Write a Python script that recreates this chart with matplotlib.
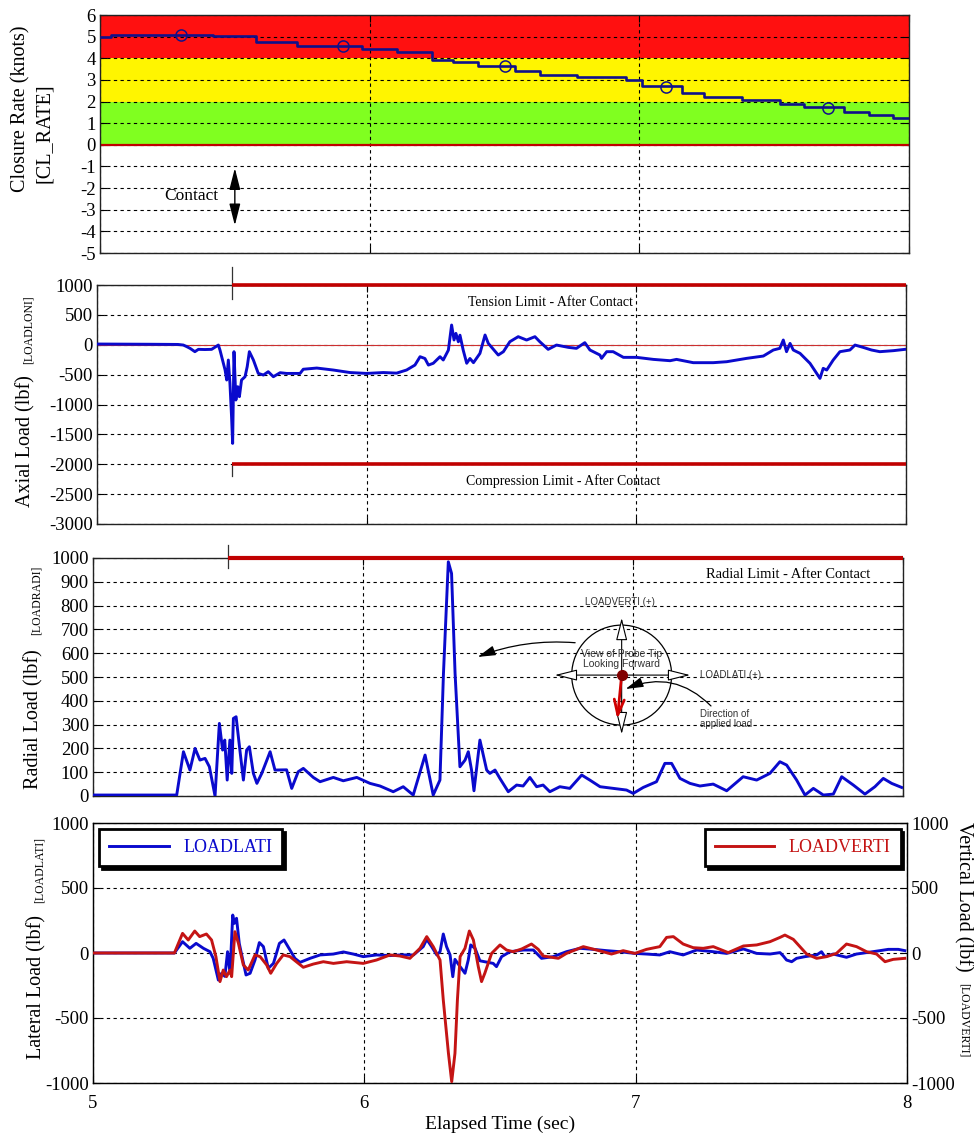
import numpy as np
import matplotlib.pyplot as plt
from matplotlib.patches import Ellipse, FancyArrowPatch

plt.rcParams['font.family'] = ['Liberation Serif', 'DejaVu Serif']
plt.rcParams['axes.unicode_minus'] = False

# ---------------- data ----------------
contact_t = 5.5
tension_lim = 1000
compress_lim = -2000
radial_lim = 1000

# closure rate (step data, knots)
cl_t = [5.00, 5.04, 5.42, 5.58, 5.73, 5.97, 6.10, 6.23, 6.31, 6.40, 6.54, 6.63, 6.77,
        6.95, 7.01, 7.16, 7.24, 7.38, 7.52, 7.61, 7.76, 7.85, 7.94, 8.00]
cl_v = [5.00, 5.06, 5.02, 4.77, 4.57, 4.41, 4.28, 3.92, 3.81, 3.66, 3.41, 3.23, 3.15,
        3.00, 2.72, 2.41, 2.20, 2.07, 1.89, 1.76, 1.50, 1.38, 1.25, 1.25]
mk_t = [5.30, 5.90, 6.50, 7.10, 7.70]
mk_v = [5.07, 4.55, 3.62, 2.65, 1.68]

# axial load LOADLONI (lbf)
axial_t = [5.00, 5.10, 5.20, 5.30, 5.320, 5.333, 5.345, 5.363, 5.376, 5.40, 5.425, 5.450,
           5.456, 5.475, 5.481, 5.487, 5.493, 5.499, 5.503, 5.508, 5.515, 5.522, 5.528,
           5.536, 5.549, 5.557, 5.565, 5.580, 5.598, 5.617, 5.635, 5.654, 5.679, 5.703,
           5.753, 5.765, 5.815, 5.876, 5.938, 6.000, 6.062, 6.111, 6.148, 6.179, 6.198,
           6.216, 6.229, 6.247, 6.272, 6.284, 6.303, 6.315, 6.324, 6.331, 6.340, 6.346,
           6.358, 6.371, 6.383, 6.396, 6.420, 6.439, 6.451, 6.488, 6.507, 6.531, 6.562,
           6.593, 6.624, 6.642, 6.673, 6.704, 6.748, 6.778, 6.809, 6.828, 6.865, 6.871,
           6.890, 6.914, 6.952, 7.001, 7.063, 7.125, 7.149, 7.211, 7.285, 7.335, 7.409,
           7.471, 7.508, 7.532, 7.545, 7.557, 7.570, 7.582, 7.607, 7.644, 7.681, 7.693,
           7.706, 7.730, 7.755, 7.792, 7.811, 7.841, 7.872, 7.903, 7.953, 7.996]
axial_v = [12, 10, 8, 5, -5, -32, -60, -116, -77, -80, -77, -5,
           -88, -423, -590, -256, -646, -1204, -1651, -116, -925, -702, -869,
           -590, -535, -367, -116, -256, -479, -507, -451, -535, -468, -480,
           -480, -410, -390, -423, -465, -480, -465, -475, -423, -340, -200,
           -230, -340, -310, -200, -255, -90, 330, 80, 190, 50, 160,
           -90, -310, -230, -300, -145, 163, 23, -172, -116, 51, 135,
           79, 135, 51, -77, -5, -44, -60, 35, -88, -172, -228,
           -116, -116, -211, -211, -245, -267, -245, -300, -300, -284, -228,
           -189, -88, -60, 79, -116, 23, -88, -144, -311, -563, -395,
           -423, -256, -116, -88, -5, -44, -88, -116, -99, -77]

# radial load LOADRADI (lbf)
radial_t = [5.00, 5.31, 5.335, 5.359, 5.378, 5.396, 5.415, 5.431, 5.452, 5.468, 5.480,
            5.488, 5.497, 5.507, 5.514, 5.520, 5.530, 5.544, 5.557, 5.569, 5.579, 5.594,
            5.607, 5.625, 5.656, 5.674, 5.717, 5.736, 5.760, 5.779, 5.816, 5.841, 5.890,
            5.927, 5.977, 6.026, 6.063, 6.112, 6.149, 6.186, 6.230, 6.260, 6.285, 6.298,
            6.316, 6.328, 6.341, 6.359, 6.378, 6.390, 6.402, 6.411, 6.433, 6.458, 6.470,
            6.489, 6.507, 6.538, 6.569, 6.593, 6.618, 6.643, 6.667, 6.692, 6.729, 6.766,
            6.810, 6.840, 6.878, 6.927, 6.976, 7.001, 7.038, 7.087, 7.118, 7.143, 7.174,
            7.211, 7.248, 7.297, 7.347, 7.408, 7.458, 7.507, 7.544, 7.569, 7.606, 7.637,
            7.668, 7.705, 7.742, 7.773, 7.816, 7.859, 7.896, 7.927, 7.958, 7.995]
radial_v = [4, 4, 186, 109, 200, 151, 158, 123, 0, 305, 193,
            235, 67, 235, 95, 326, 333, 193, 67, 193, 207, 95,
            53, 95, 186, 109, 110, 32, 102, 116, 78, 60, 78,
            64, 78, 53, 42, 18, 39, 4, 172, 4, 67, 515,
            984, 935, 515, 123, 151, 186, 109, 22, 235, 109, 95,
            109, 74, 18, 46, 42, 78, 39, 46, 18, 39, 32,
            88, 67, 39, 32, 25, 11, 36, 60, 137, 137, 74,
            53, 42, 50, 22, 81, 67, 95, 144, 130, 67, 4,
            32, 4, 8, 81, 46, 8, 39, 74, 53, 36]

# lateral load LOADLATI (lbf)
lat_t = [5.00, 5.30, 5.330, 5.357, 5.380, 5.407, 5.431, 5.443, 5.462, 5.474, 5.486, 5.496,
         5.505, 5.515, 5.521, 5.529, 5.539, 5.552, 5.564, 5.579, 5.597, 5.613, 5.628,
         5.646, 5.665, 5.687, 5.704, 5.726, 5.744, 5.763, 5.800, 5.837, 5.886, 5.923,
         5.959, 5.996, 6.045, 6.095, 6.131, 6.181, 6.217, 6.230, 6.248, 6.267, 6.279,
         6.291, 6.303, 6.316, 6.326, 6.334, 6.353, 6.371, 6.383, 6.392, 6.408, 6.426,
         6.475, 6.487, 6.506, 6.537, 6.586, 6.623, 6.653, 6.696, 6.745, 6.795, 6.844,
         6.893, 6.942, 6.997, 7.040, 7.089, 7.126, 7.175, 7.225, 7.286, 7.335, 7.397,
         7.446, 7.495, 7.532, 7.544, 7.556, 7.575, 7.593, 7.624, 7.667, 7.685, 7.697,
         7.728, 7.777, 7.814, 7.851, 7.900, 7.931, 7.968, 7.992]
lat_v = [0, 0, 87, 36, 74, 36, 10, -41, -208, -156, -180, 10,
         -156, 292, 228, 267, 74, -54, -169, -156, -54, 80, 49,
         -118, -80, 74, 100, 23, -41, -72, -41, -15, -8, 8,
         -8, -28, -15, -20, -15, -15, 49, 105, 49, -15, 10,
         146, 49, -15, -182, -49, -105, -156, -54, 62, 36, -60,
         -80, -105, -28, 10, 23, 23, -41, -28, 10, 36, 28,
         18, 10, -3, -8, -15, 10, -15, 23, 10, -3, 31,
         -3, -8, 3, -23, -54, -67, -41, -28, -15, 10, -28,
         -8, -33, -8, 3, 18, 28, 28, 18]

# vertical load LOADVERTI (lbf)
vert_t = [5.00, 5.30, 5.330, 5.351, 5.375, 5.393, 5.418, 5.437, 5.453, 5.468, 5.480, 5.492,
          5.505, 5.511, 5.523, 5.536, 5.554, 5.572, 5.597, 5.616, 5.640, 5.655, 5.677,
          5.701, 5.726, 5.775, 5.812, 5.849, 5.886, 5.935, 5.996, 6.045, 6.095, 6.131,
          6.168, 6.205, 6.230, 6.254, 6.279, 6.291, 6.310, 6.322, 6.334, 6.343, 6.353,
          6.371, 6.387, 6.402, 6.420, 6.432, 6.444, 6.469, 6.500, 6.524, 6.549, 6.580,
          6.616, 6.641, 6.659, 6.715, 6.745, 6.807, 6.856, 6.911, 6.954, 6.997, 7.040,
          7.089, 7.114, 7.139, 7.175, 7.212, 7.249, 7.286, 7.341, 7.397, 7.446, 7.495,
          7.532, 7.550, 7.581, 7.630, 7.667, 7.704, 7.740, 7.777, 7.814, 7.851, 7.888,
          7.919, 7.949, 7.992]
vert_v = [0, 0, 151, 100, 169, 126, 146, 100, -28, -220, -131, -182,
          -131, -182, 164, 74, -92, -131, -15, -28, -92, -156, -80,
          -15, -28, -110, -85, -67, -80, -67, -80, -54, -15, -23,
          -41, 36, 126, 49, -54, -362, -772, -990, -772, -362, -28,
          36, 169, 100, -105, -220, -156, -3, 62, 23, 10, 31,
          69, 28, -23, -41, -3, 49, 23, -8, 18, -3, 28,
          49, 120, 126, 69, 41, 36, 49, 3, 54, 62, 87,
          120, 138, 105, -8, -41, -28, -3, 69, 49, 10, -8,
          -67, -49, -41]

BLUE = '#0a0acd'
NAVY = '#10108a'
RED = '#c41414'
LIMRED = '#c00000'
GRID = dict(color='black', lw=0.8, ls=(0, (3, 3)))


def style(ax, lo, hi, step):
    ax.set_xlim(5, 8)
    ax.set_ylim(lo, hi)
    ax.set_yticks(np.arange(lo, hi + step / 2, step))
    ax.set_xticks([5, 6, 7, 8])
    ax.tick_params(direction='in', top=True, right=True, length=5, labelsize=13.5,
                   labelbottom=False, pad=3)
    ax.grid(True, **GRID)
    for s in ax.spines.values():
        s.set_linewidth(1.0)
        s.set_color('#222222')


fig = plt.figure(figsize=(9.74, 11.37), dpi=100)
W, H = 974, 1137


def rect(l, r, t, b):
    return [l / W, (H - b) / H, (r - l) / W, (b - t) / H]


def ylab(x, y, s, size, rot=90):
    fig.text(x / W, 1 - y / H, s, rotation=rot, ha='center', va='center', fontsize=size)


# ---------- panel 1: closure rate ----------
ax1 = fig.add_axes(rect(100, 909, 15, 253))
style(ax1, -5, 6, 1)
ax1.axhspan(4, 6, color='#ff1010', zorder=0.5, lw=0)
ax1.axhspan(2, 4, color='#fff500', zorder=0.5, lw=0)
ax1.axhspan(0, 2, color='#80ff20', zorder=0.5, lw=0)
ax1.axhline(0, color=LIMRED, lw=1.6, zorder=2)
ax1.step(cl_t, cl_v, where='post', color=NAVY, lw=1.9, zorder=3)
ax1.plot(mk_t, mk_v, 'o', mfc='none', mec=NAVY, ms=8, mew=1.1, zorder=4)
ax1.add_patch(FancyArrowPatch((contact_t, -0.95), (contact_t, -3.85),
                              arrowstyle='<|-|>,head_length=1.1,head_width=0.28',
                              mutation_scale=12, color='black', lw=1.0, zorder=5))
ax1.text(5.337, -2.36, 'Contact', ha='center', va='center', fontsize=12.5)
ylab(21, 109, 'Closure Rate (knots)', 14.5)
ylab(44, 133, '[CL_RATE]', 14.5)

# ---------- panel 2: axial load ----------
ax2 = fig.add_axes(rect(97, 906, 285, 524))
style(ax2, -3000, 1000, 500)
ax2.axhline(0, color='#cc3030', lw=0.8, zorder=2)
ax2.hlines([tension_lim, compress_lim], contact_t, 8, color=LIMRED, lw=2.6,
           zorder=4, clip_on=False)
ax2.plot([contact_t, contact_t], [tension_lim + 300, tension_lim - 230], color='#333333',
         lw=0.9, clip_on=False, zorder=3)
ax2.plot([contact_t, contact_t], [compress_lim, compress_lim - 190], color='#333333',
         lw=0.9, clip_on=False, zorder=3)
ax2.plot(axial_t, axial_v, color=BLUE, lw=2.1, zorder=3)
ax2.text(6.683, 715, 'Tension Limit - After Contact', ha='center', va='center', fontsize=10)
ax2.text(6.73, -2281, 'Compression Limit - After Contact', ha='center', va='center',
         fontsize=10)
ylab(26, 441, 'Axial Load (lbf)', 14.5)
ylab(29, 330, '[LOADLONI]', 8.5)

# ---------- panel 3: radial load ----------
ax3 = fig.add_axes(rect(93, 903, 558, 796))
style(ax3, 0, 1000, 100)
ax3.hlines(radial_lim, contact_t, 8, color=LIMRED, lw=3.0, zorder=4, clip_on=False)
ax3.plot([contact_t, contact_t], [radial_lim + 55, radial_lim - 40], color='#333333',
         lw=0.9, clip_on=False, zorder=3)
ax3.plot(radial_t, radial_v, color=BLUE, lw=2.1, zorder=3)
ax3.text(7.574, 932, 'Radial Limit - After Contact', ha='center', va='center', fontsize=10.5)

# probe tip sketch
cx, cy = 6.958, 508
sans = ['Liberation Sans', 'DejaVu Sans']
ax3.add_patch(Ellipse((cx, cy), 0.37, 420, fill=False, ec='black', lw=0.9, zorder=5))
ax3.add_patch(FancyArrowPatch((cx, 248), (cx, 760),
                              arrowstyle='<|-|>,head_length=1.4,head_width=0.35',
                              mutation_scale=10, fc='white', ec='black', lw=0.8, zorder=5))
ax3.add_patch(FancyArrowPatch((6.70, cy), (7.222, cy),
                              arrowstyle='<|-|>,head_length=1.4,head_width=0.35',
                              mutation_scale=10, fc='white', ec='black', lw=0.8, zorder=5))
ax3.add_patch(FancyArrowPatch((cx, cy), (6.941, 311),
                              arrowstyle='->,head_length=0.55,head_width=0.18',
                              mutation_scale=20, color='#d00000', lw=2.0, zorder=6))
ax3.plot(cx, cy, 'o', color='#800000', ms=7, zorder=7)
ax3.add_patch(FancyArrowPatch((7.296, 370), (6.963, 445),
                              connectionstyle='arc3,rad=0.35',
                              arrowstyle='-|>,head_length=0.9,head_width=0.25',
                              mutation_scale=12, color='black', lw=0.9, zorder=6))
ax3.add_patch(FancyArrowPatch((6.796, 643), (6.415, 580),
                              connectionstyle='arc3,rad=0.12',
                              arrowstyle='-|>,head_length=0.9,head_width=0.25',
                              mutation_scale=12, color='black', lw=0.9, zorder=6))
ax3.text(6.822, 815, 'LOADVERTI (+)', family=sans, fontsize=7, color='#333333',
         ha='left', va='center', zorder=6)
ax3.text(7.248, cy, 'LOADLATI (+)', family=sans, fontsize=7, color='#333333',
         ha='left', va='center', zorder=6)
ax3.text(cx, 575, 'View of Probe Tip\nLooking Forward', family=sans, fontsize=7.5,
         color='#333333', ha='center', va='center', linespacing=1.05, zorder=6)
ax3.text(7.248, 323, 'Direction of\napplied load', family=sans, fontsize=7,
         color='#333333', ha='left', va='center', linespacing=1.05, zorder=6)
ylab(34, 719, 'Radial Load (lbf)', 14.5)
ylab(37, 600, '[LOADRADI]', 8.5)

# ---------- panel 4: lateral / vertical ----------
ax4 = fig.add_axes(rect(93, 907, 823, 1083))
style(ax4, -1000, 1000, 500)
ax4.tick_params(right=False, labelbottom=True)
ax4.tick_params(axis='x', pad=9)
ax4.set_xticklabels(['5', '6', '7', '8'])
ax4r = ax4.twinx()
ax4r.set_ylim(-1000, 1000)
ax4r.set_yticks(np.arange(-1000, 1001, 500))
ax4r.tick_params(direction='in', length=5, labelsize=13.5, pad=3)
l1, = ax4.plot(lat_t, lat_v, color=BLUE, lw=2.1, label='LOADLATI', zorder=3)
l2, = ax4r.plot(vert_t, vert_v, color=RED, lw=2.1, label='LOADVERTI', zorder=3)
for axx, loc in [(ax4, 'upper left'), (ax4r, 'upper right')]:
    leg = axx.legend(loc=loc, fancybox=False, shadow={'color': 'black', 'alpha': 1},
                     fontsize=13, handlelength=3.3, borderaxespad=0.35,
                     labelcolor='linecolor', framealpha=1, borderpad=0.55)
    leg.get_frame().set_edgecolor('black')
    leg.get_frame().set_linewidth(2.0)
ax4.set_xlabel('Elapsed Time (sec)', fontsize=14, labelpad=2)
ylab(37, 987, 'Lateral Load (lbf)', 14.5)
ylab(40, 870, '[LOADLATI]', 8.5)
ylab(963, 897, 'Vertical Load (lbf)', 14.5, rot=-90)
ylab(964, 1020, '[LOADVERTI]', 8.5, rot=-90)

fig.savefig('out.png', dpi=100)
